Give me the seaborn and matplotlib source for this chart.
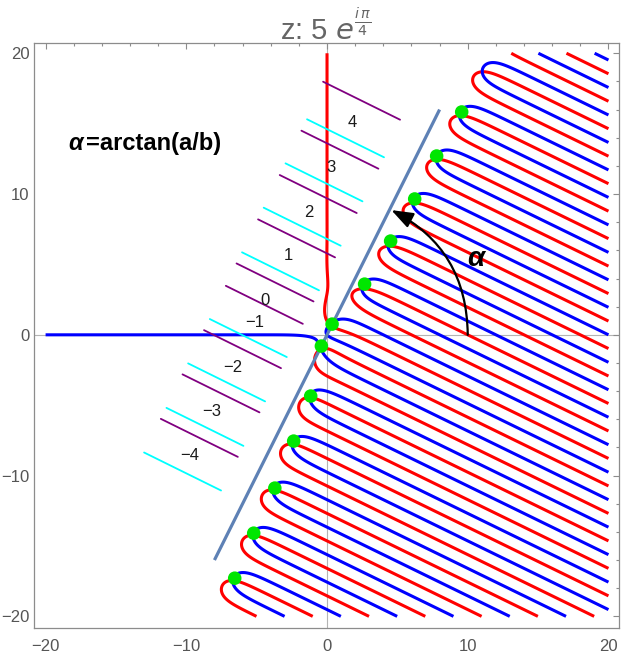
import numpy as np
import pandas as pd
import matplotlib
matplotlib.use("Agg")
import matplotlib.pyplot as plt
from matplotlib.ticker import MultipleLocator
import seaborn as sns

# parameter shown in the title: z = 5 e^(i pi/4)
Z_MOD = 5.0
Z_ARG = np.pi / 4

# zeros marked with green dots
zero_x = [9.57, 7.79, 6.23, 4.52, 2.67, 0.36, -0.40, -1.16, -2.37, -3.71, -5.21, -6.56]
zero_y = [15.83, 12.70, 9.65, 6.66, 3.60, 0.76, -0.80, -4.35, -7.55, -10.89, -14.09, -17.29]

# branch strip segments on the left (start / end points and colour)
seg_kind = ["purple", "cyan", "purple", "cyan", "purple", "cyan", "purple", "cyan", "purple",
            "purple", "cyan", "purple", "cyan", "purple", "cyan", "purple", "cyan"]
seg_x0 = [-0.28, -1.42, -1.82, -2.95, -3.36, -4.50, -4.90, -6.04, -6.43,
          -7.19, -8.33, -8.74, -9.87, -10.27, -11.41, -11.81, -13.00]
seg_y0 = [17.98, 15.31, 14.50, 12.18, 11.35, 9.03, 8.20, 5.86, 5.07,
          3.48, 1.12, 0.33, -2.03, -2.81, -5.19, -5.97, -8.36]
seg_x1 = [5.19, 4.05, 3.65, 2.52, 2.11, 0.97, 0.57, -0.57, -0.96,
          -1.72, -2.86, -3.27, -4.40, -4.80, -5.94, -6.34, -7.53]
seg_y1 = [15.28, 12.61, 11.80, 9.48, 8.65, 6.33, 5.50, 3.16, 2.37,
          0.78, -1.58, -2.37, -4.73, -5.51, -7.89, -8.67, -11.06]

# branch numbers
branch_labels = ["4", "3", "2", "1", "0", "\u22121", "\u22122", "\u22123", "\u22124"]
branch_x = [1.80, 0.26, -1.30, -2.77, -4.38, -5.13, -6.68, -8.21, -9.75]
branch_y = [15.07, 11.90, 8.70, 5.61, 2.47, 0.85, -2.35, -5.47, -8.60]

# the alpha line and the arc arrow
alpha_line_x = [-8.0, 8.0]
alpha_line_y = [-16.0, 16.0]
arrow_start = (10.0, 0.0)
arrow_end = (4.57, 8.86)

sns.set_theme(style="white")
plt.rcParams["font.family"] = ["Liberation Sans", "DejaVu Sans"]

fig = plt.figure(figsize=(6.23, 6.58), dpi=100)
ax = fig.add_axes([0.0551, 0.0451, 0.9385, 0.890])

# contours of Re and Im of z^w - w
gx = np.linspace(-20, 20, 1601)
X, Y = np.meshgrid(gx, gx)
W = X + 1j * Y
logz = np.log(Z_MOD) + 1j * Z_ARG
F = np.exp(W * logz) - W
U = F / np.abs(F)

ax.axhline(0, color="#b4b4b4", lw=0.8, zorder=0)
ax.axvline(0, color="#b4b4b4", lw=0.8, zorder=0)

ax.contour(X, Y, U.real, levels=[0], colors="#ff0000", linewidths=2.2, zorder=2)
ax.contour(X, Y, U.imag, levels=[0], colors="#0000ff", linewidths=2.2, zorder=2)

# strip segments
segs = pd.DataFrame({
    "seg": np.repeat(np.arange(len(seg_kind)), 2),
    "kind": np.repeat(seg_kind, 2),
    "x": np.ravel(np.column_stack([seg_x0, seg_x1])),
    "y": np.ravel(np.column_stack([seg_y0, seg_y1])),
})
sns.lineplot(data=segs, x="x", y="y", hue="kind", units="seg", estimator=None, sort=False,
             palette={"cyan": "#00ffff", "purple": "#800080"}, lw=1.3, legend=False, ax=ax, zorder=3)

for lab, x, y in zip(branch_labels, branch_x, branch_y):
    ax.text(x, y, lab, fontsize=12, ha="center", va="center", color="#1a1a1a", zorder=4)

ax.plot(alpha_line_x, alpha_line_y, color="#5e81b5", lw=2.3, zorder=3, solid_capstyle="butt")

sns.scatterplot(x=zero_x, y=zero_y, color="#00e600", s=95, edgecolor="none", zorder=5, ax=ax)

ax.annotate("", xy=arrow_end, xytext=arrow_start,
            arrowprops=dict(arrowstyle="-|>,head_length=0.6,head_width=0.22",
                            connectionstyle="arc3,rad=0.30", color="black", lw=1.6,
                            mutation_scale=22, shrinkA=0, shrinkB=0), zorder=4)
ax.text(10.56, 5.38, "\u03b1", fontsize=20, fontweight="bold", fontstyle="italic",
        ha="center", va="center", color="black")

ax.text(-18.41, 13.62, "\u03b1", fontsize=17, fontweight="bold", fontstyle="italic",
        ha="left", va="center", color="black")
ax.text(-17.13, 13.62, "=arctan(a/b)", fontsize=17, fontweight="bold",
        ha="left", va="center", color="black")

ax.set_xlim(-20.8, 20.75)
ax.set_ylim(-20.85, 20.75)
ax.set_xticks([-20, -10, 0, 10, 20])
ax.set_yticks([-20, -10, 0, 10, 20])
ax.xaxis.set_minor_locator(MultipleLocator(2))
ax.yaxis.set_minor_locator(MultipleLocator(2))
ax.tick_params(which="both", direction="in", top=True, right=True, color="#8c8c8c",
               labelcolor="#555555", labelsize=12)
ax.tick_params(which="major", length=4.5, width=0.8)
ax.tick_params(which="minor", length=2.5, width=0.8)
ax.tick_params(axis="x", pad=8)
ax.tick_params(axis="y", pad=3.5)
for sp in ax.spines.values():
    sp.set_color("#8c8c8c")
    sp.set_linewidth(0.9)
ax.set_xlabel("")
ax.set_ylabel("")

fig.text(0.522, 1 - 40 / 658, r"z: 5 $e^{\frac{i\,\pi}{4}}$", fontsize=21, color="#666666",
         ha="center", va="baseline")

fig.savefig("out.png", dpi=100)
